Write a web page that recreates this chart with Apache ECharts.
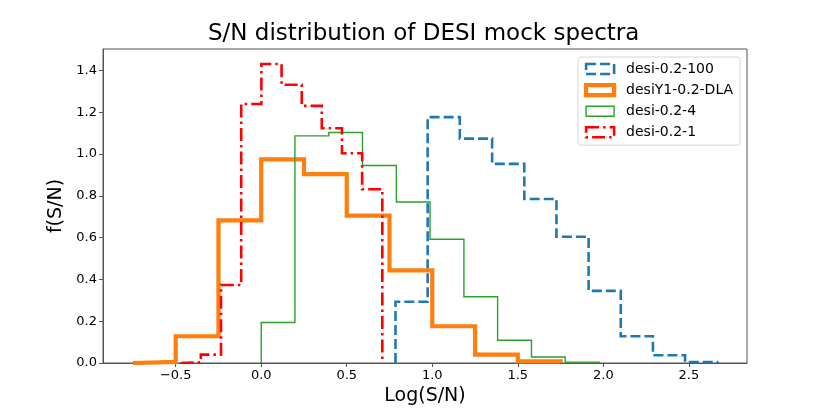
<!DOCTYPE html>
<html>
	<head>
		<meta charset="UTF-8">
		<title>S/N distribution</title>
		<style type="text/css">
			html,body{margin:0;padding:0;background:#fff;}
			#main{width:830px;height:415px;}
		</style>
	</head>
	<body>
		<div id="main"></div>
		<script src="https://cdn.jsdelivr.net/npm/echarts@6/dist/echarts.min.js" type="text/javascript" charset="utf-8"></script>
		<script type="text/javascript">
			// bin edges and heights (density histograms)
			var blueEdges = [0.785, 0.973, 1.161, 1.350, 1.538, 1.726, 1.914, 2.102, 2.290, 2.478, 2.666];
			var blueVals = [0.293, 1.177, 1.074, 0.953, 0.785, 0.604, 0.345, 0.128, 0.037, 0.005];
			var orangeEdges = [-0.75, -0.5, -0.25, 0.0, 0.25, 0.5, 0.75, 1.0, 1.25, 1.5, 1.75];
			var orangeVals = [0.005, 0.128, 0.683, 0.975, 0.904, 0.705, 0.443, 0.176, 0.040, 0.008];
			var greenEdges = [0.0, 0.197, 0.395, 0.592, 0.790, 0.987, 1.185, 1.382, 1.580, 1.777, 1.975];
			var greenVals = [0.194, 1.087, 1.103, 0.945, 0.771, 0.592, 0.317, 0.109, 0.029, 0.004];
			var redEdges = [-0.471, -0.353, -0.235, -0.117, 0.001, 0.119, 0.237, 0.354, 0.472, 0.590, 0.708];
			var redVals = [0.003, 0.040, 0.373, 1.240, 1.431, 1.332, 1.231, 1.124, 1.004, 0.832];

			var names = ['desi-0.2-100', 'desiY1-0.2-DLA', 'desi-0.2-4', 'desi-0.2-1'];
			var xTicks = [-0.5, 0.0, 0.5, 1.0, 1.5, 2.0, 2.5];
			var yTicks = [0.0, 0.2, 0.4, 0.6, 0.8, 1.0, 1.2, 1.4];

			var font = 'DejaVu Sans';

			// outline of a step histogram: up from 0, across each bin, back down to 0
			function stepPath(edges, vals) {
				var pts = [[edges[0], 0]];
				for (var i = 0; i < vals.length; i++) {
					pts.push([edges[i], vals[i]]);
					pts.push([edges[i + 1], vals[i]]);
				}
				pts.push([edges[edges.length - 1], 0]);
				return pts;
			}

			var styles = [
				{color: '#1f77b4', width: 2.6, type: [10, 4]},
				{color: '#ff7f0e', width: 4.2, type: 'solid'},
				{color: '#2ca02c', width: 1.4, type: 'solid'},
				{color: '#ff0000', width: 2.6, type: [13, 4, 2.5, 4]}
			];
			var paths = [
				stepPath(blueEdges, blueVals),
				stepPath(orangeEdges, orangeVals),
				stepPath(greenEdges, greenVals),
				stepPath(redEdges, redVals)
			];

			var series = [];
			var legendData = [];
			for (var k = 0; k < names.length; k++) {
				series.push({
					name: names[k],
					type: 'line',
					data: paths[k],
					symbol: 'none',
					color: styles[k].color,
					lineStyle: {color: styles[k].color, width: styles[k].width, type: styles[k].type, cap: 'butt', join: 'miter'},
					z: 2 + k
				});
				legendData.push({
					name: names[k],
					icon: 'rect',
					itemStyle: {color: 'rgba(0,0,0,0)', borderColor: styles[k].color, borderWidth: styles[k].width, borderType: styles[k].type}
				});
			}

			function fmt(v) {
				var s = Math.abs(v).toFixed(1);
				return v < 0 ? '\u2212' + s : s;
			}

			var myChart = echarts.init(document.getElementById('main'));
			var option = {
				animation: false,
				backgroundColor: '#fff',
				title: {
					text: 'S/N distribution of DESI mock spectra',
					left: 208,
					top: 23,
					padding: 0,
					textStyle: {fontFamily: font, fontSize: 23, fontWeight: 'normal', color: '#000'}
				},
				legend: {
					orient: 'vertical',
					left: 578,
					top: 57,
					padding: [5, 7, 6, 6],
					itemWidth: 28,
					itemHeight: 10,
					itemGap: 7,
					borderColor: '#d6d6d6',
					borderWidth: 1,
					borderRadius: 3,
					backgroundColor: '#fff',
					textStyle: {fontFamily: font, fontSize: 14, color: '#000', padding: [0, 0, 0, 7]},
					data: legendData
				},
				grid: {
					left: 103,
					right: 83,
					top: 49,
					bottom: 52,
					show: true,
					borderColor: '#555',
					borderWidth: 1
				},
				xAxis: {
					type: 'value',
					min: -0.925,
					max: 2.84,
					name: 'Log(S/N)',
					nameLocation: 'middle',
					nameGap: 22,
					nameTextStyle: {fontFamily: font, fontSize: 19, color: '#000'},
					axisLine: {onZero: false, lineStyle: {color: '#555', width: 1}},
					axisTick: {show: true, length: 4, inside: false, customValues: xTicks, lineStyle: {color: '#555'}},
					axisLabel: {customValues: xTicks, formatter: fmt, fontFamily: font, fontSize: 13, color: '#000', margin: 6},
					splitLine: {show: false}
				},
				yAxis: {
					type: 'value',
					min: 0,
					max: 1.503,
					name: 'f(S/N)',
					nameLocation: 'middle',
					nameRotate: 90,
					nameGap: 28,
					nameTextStyle: {fontFamily: font, fontSize: 19, color: '#000'},
					axisLine: {show: true, onZero: false, lineStyle: {color: '#555', width: 1}},
					axisTick: {show: true, length: 4, inside: false, customValues: yTicks, lineStyle: {color: '#555'}},
					axisLabel: {customValues: yTicks, formatter: function (v) { return v.toFixed(1); }, fontFamily: font, fontSize: 13, color: '#000', margin: 6},
					splitLine: {show: false}
				},
				series: series
			};
			myChart.setOption(option);
		</script>
	</body>
</html>
